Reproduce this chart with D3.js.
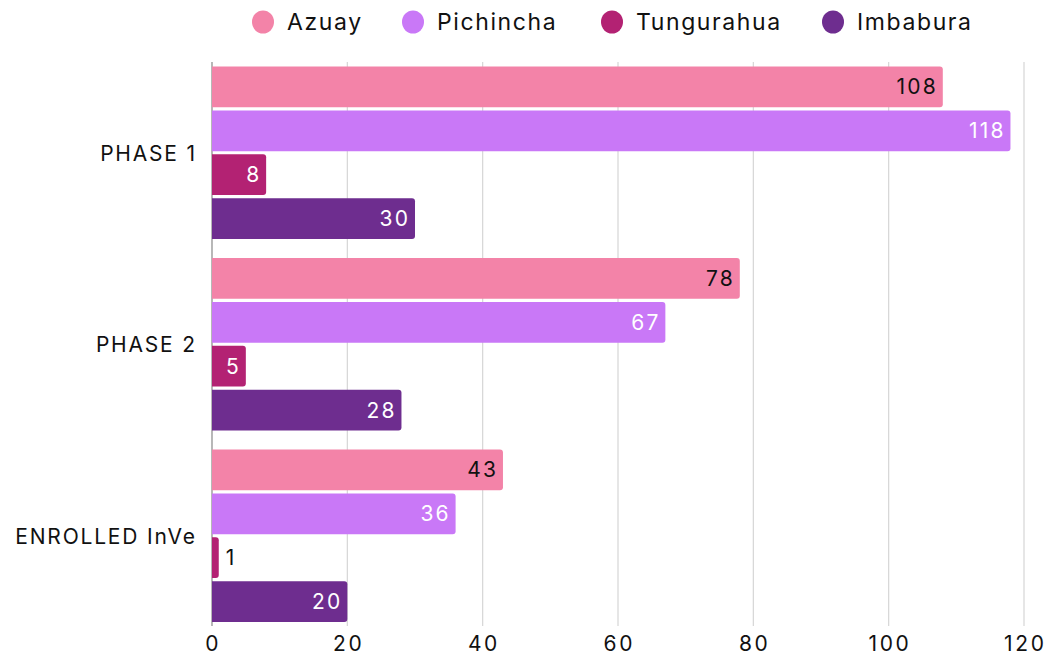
<!DOCTYPE html>
<html><head><meta charset="utf-8">
<script src="https://cdn.jsdelivr.net/npm/d3@7"></script>
<style>body{margin:0;background:#fff}svg{display:block}text{font-family:Inter,"Open Sans",sans-serif}</style>
</head><body><svg id="c" width="1054" height="657"></svg>
<script>
const categories = ["PHASE 1", "PHASE 2", "ENROLLED InVe"];
const seriesNames = ["Azuay", "Pichincha", "Tungurahua", "Imbabura"];
const azuay = [108, 78, 43];
const pichincha = [118, 67, 36];
const tungurahua = [8, 5, 1];
const imbabura = [30, 28, 20];
const xTicks = [0, 20, 40, 60, 80, 100, 120];
const colors = ["#f383a8", "#c978f7", "#b32273", "#6e2d8f"];
const labelColors = ["#111", "#fff", "#fff", "#fff"];
const values = [azuay, pichincha, tungurahua, imbabura];

const svg = d3.select("#c");
const x = d3.scaleLinear().domain([0, 120]).range([212, 1024]);
const y0 = d3.scaleBand().domain(categories).range([57, 631.5]).paddingInner(0.1).paddingOuter(0.05);
const y1 = d3.scaleBand().domain(seriesNames).range([0, y0.bandwidth()]).paddingInner(0.07);

// grid
svg.append("g").selectAll("line").data(xTicks.slice(1)).join("line")
  .attr("x1", d => x(d)).attr("x2", d => x(d)).attr("y1", 62).attr("y2", 626)
  .attr("stroke", "#d6d6d6").attr("stroke-width", 1.2);
svg.append("line").attr("x1", x(0)).attr("x2", x(0)).attr("y1", 62).attr("y2", 626)
  .attr("stroke", "#888").attr("stroke-width", 1.2);

// x ticks
const tickLS = 2.6;
svg.append("g").selectAll("text").data(xTicks).join("text")
  .attr("x", d => x(d) + tickLS / 2).attr("y", 651).attr("text-anchor", "middle")
  .attr("font-size", 21).attr("letter-spacing", tickLS).attr("fill", "#111").text(d => d);

// category labels
const catLS = 1.8;
svg.append("g").selectAll("text").data(categories).join("text")
  .attr("x", 195 + catLS).attr("y", d => y0(d) + y0.bandwidth() / 2 + 8).attr("text-anchor", "end")
  .attr("font-size", 21).attr("letter-spacing", catLS).attr("fill", "#111").text(d => d);

function barPath(x0, yy, w, h, r) {
  r = Math.min(r, w);
  return `M${x0},${yy}H${x0 + w - r}Q${x0 + w},${yy} ${x0 + w},${yy + r}V${yy + h - r}Q${x0 + w},${yy + h} ${x0 + w - r},${yy + h}H${x0}Z`;
}

const valLS = 2.2;
categories.forEach((cat, ci) => {
  seriesNames.forEach((s, si) => {
    const v = values[si][ci];
    const by = y0(cat) + y1(s);
    const bh = y1.bandwidth();
    const w = x(v) - x(0);
    svg.append("path").attr("d", barPath(x(0), by, w, bh, 3)).attr("fill", colors[si]);
    const inside = w > 30;
    svg.append("text")
      .attr("x", inside ? x(v) - 7 + valLS : x(v) + 7)
      .attr("y", by + bh / 2 + 7.5)
      .attr("text-anchor", inside ? "end" : "start")
      .attr("font-size", 21)
      .attr("letter-spacing", valLS)
      .attr("fill", inside ? labelColors[si] : "#111")
      .text(v);
  });
});

// legend
const legX = [263, 413, 612, 833];
const leg = svg.append("g").selectAll("g").data(seriesNames).join("g")
  .attr("transform", (d, i) => `translate(${legX[i]},22)`);
leg.append("ellipse").attr("rx", 11).attr("ry", 11.5).attr("fill", (d, i) => colors[i]);
leg.append("text").attr("x", 24).attr("y", 8).attr("font-size", 23).attr("letter-spacing", 1.6)
  .attr("fill", "#111").text(d => d);
</script></body></html>
